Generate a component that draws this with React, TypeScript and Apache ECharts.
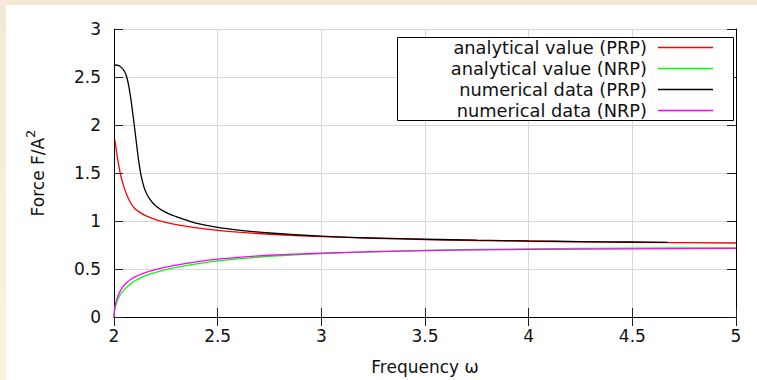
import React, { useEffect, useRef } from "react";
import * as echarts from "echarts";

// Frequency axis ticks and force axis ticks
const xTicks = [2, 2.5, 3, 3.5, 4, 4.5, 5];
const yTicks = [0, 0.5, 1, 1.5, 2, 2.5, 3];

// analytical value (PRP)
const redX = [2.005, 2.01, 2.015, 2.02, 2.03, 2.04, 2.05, 2.065, 2.08, 2.1, 2.125, 2.15, 2.2, 2.25, 2.3, 2.4, 2.5, 2.6, 2.75, 3, 3.25, 3.5, 3.75, 4, 4.5, 5];
const redY = [1.84, 1.755, 1.68, 1.615, 1.5, 1.41, 1.34, 1.255, 1.19, 1.13, 1.09, 1.058, 1.015, 0.985, 0.962, 0.928, 0.903, 0.884, 0.862, 0.838, 0.82, 0.807, 0.797, 0.789, 0.778, 0.771];

// analytical value (NRP)
const greenX = [2.0, 2.002, 2.005, 2.01, 2.015, 2.02, 2.03, 2.04, 2.05, 2.065, 2.08, 2.1, 2.125, 2.15, 2.2, 2.25, 2.3, 2.4, 2.5, 2.6, 2.75, 3, 3.25, 3.5, 3.75, 4, 4.5, 5];
const greenY = [0, 0.05, 0.09, 0.13, 0.162, 0.19, 0.23, 0.26, 0.285, 0.318, 0.345, 0.375, 0.405, 0.43, 0.466, 0.494, 0.517, 0.553, 0.584, 0.606, 0.631, 0.66, 0.679, 0.693, 0.703, 0.71, 0.717, 0.721];

// numerical data (PRP)
const blackX = [2.0, 2.01, 2.02, 2.03, 2.04, 2.05, 2.06, 2.07, 2.08, 2.09, 2.1, 2.11, 2.12, 2.13, 2.14, 2.15, 2.17, 2.2, 2.25, 2.3, 2.35, 2.4, 2.5, 2.6, 2.75, 3, 3.25, 3.5, 3.75, 4, 4.25, 4.5, 4.67];
const blackY = [2.615, 2.625, 2.62, 2.61, 2.59, 2.56, 2.51, 2.42, 2.29, 2.13, 1.96, 1.78, 1.61, 1.48, 1.39, 1.32, 1.235, 1.16, 1.09, 1.045, 1.008, 0.975, 0.933, 0.905, 0.875, 0.843, 0.823, 0.81, 0.8, 0.792, 0.786, 0.781, 0.778];

// numerical data (NRP)
const magentaX = [2.0, 2.002, 2.005, 2.01, 2.015, 2.02, 2.03, 2.04, 2.05, 2.065, 2.08, 2.1, 2.125, 2.15, 2.2, 2.25, 2.3, 2.4, 2.5, 2.6, 2.75, 3, 3.25, 3.5, 3.75, 4, 4.5, 5];
const magentaY = [0, 0.07, 0.115, 0.16, 0.195, 0.225, 0.27, 0.305, 0.333, 0.365, 0.39, 0.415, 0.44, 0.462, 0.494, 0.519, 0.541, 0.575, 0.603, 0.622, 0.643, 0.666, 0.681, 0.692, 0.699, 0.704, 0.71, 0.714];

const seriesNames = [
  "analytical value (PRP)",
  "analytical value (NRP)",
  "numerical data (PRP)",
  "numerical data (NRP)",
];
const seriesColors = ["#ff0000", "#00ff00", "#000000", "#ff00ff"];

const FONT = "DejaVu Sans";

function pairs(xs: number[], ys: number[]) {
  return xs.map((x, i) => [x, ys[i]]);
}

export default function App() {
  const ref = useRef<HTMLDivElement>(null);

  useEffect(() => {
    if (!ref.current) return;
    const chart = echarts.init(ref.current, undefined, { renderer: "svg" });

    const seriesData = [
      pairs(redX, redY),
      pairs(greenX, greenY),
      pairs(blackX, blackY),
      pairs(magentaX, magentaY),
    ];

    // legend box drawn as graphic elements
    const legendRight = 647;
    const rowY = [47, 68, 89, 110];
    const legendGraphics: any[] = [
      {
        type: "rect",
        shape: { x: 397.5, y: 37.5, width: 336, height: 83 },
        style: { fill: "#ffffff", stroke: "#000000", lineWidth: 1 },
        z: 10,
      },
    ];
    seriesNames.forEach((name, i) => {
      legendGraphics.push({
        type: "text",
        x: legendRight,
        y: rowY[i],
        style: {
          text: name,
          fill: "#111111",
          font: `17.8px "${FONT}"`,
          textAlign: "right",
          textVerticalAlign: "middle",
        },
        z: 11,
      });
      legendGraphics.push({
        type: "line",
        shape: { x1: 658, y1: rowY[i] + 0.5, x2: 713, y2: rowY[i] + 0.5 },
        style: { stroke: seriesColors[i], lineWidth: 1.3 },
        z: 11,
      });
    });

    const axisCommon = {
      type: "value" as const,
      axisLine: { show: true, lineStyle: { color: "#000000", width: 1 } },
      axisTick: { show: true, inside: true, length: 9, lineStyle: { color: "#222222", width: 1 } },
    };

    chart.setOption({
      animation: false,
      backgroundColor: "#ffffff",
      textStyle: { fontFamily: FONT },
      grid: { left: 114, top: 29, right: 21, bottom: 62.5, containLabel: false },
      xAxis: [
        {
          ...axisCommon,
          position: "bottom",
          min: xTicks[0],
          max: xTicks[xTicks.length - 1],
          interval: 0.5,
          name: "Frequency ω",
          nameLocation: "middle",
          nameGap: 41,
          nameTextStyle: { fontFamily: FONT, fontSize: 17, color: "#111111" },
          axisLabel: { fontFamily: FONT, fontSize: 17, color: "#111111", margin: 10 },
          splitLine: { show: true, lineStyle: { color: "#d8d8d8", width: 1 } },
        },
        {
          ...axisCommon,
          position: "top",
          min: xTicks[0],
          max: xTicks[xTicks.length - 1],
          interval: 0.5,
          axisLabel: { show: false },
          splitLine: { show: false },
        },
      ],
      yAxis: [
        {
          ...axisCommon,
          position: "left",
          min: yTicks[0],
          max: yTicks[yTicks.length - 1],
          interval: 0.5,
          name: "{a|Force F/A}{s|2}",
          nameLocation: "middle",
          nameGap: 68,
          nameRotate: 90,
          nameTextStyle: {
            fontFamily: FONT,
            fontSize: 17,
            color: "#111111",
            rich: {
              a: { fontFamily: FONT, fontSize: 17, color: "#111111", lineHeight: 22, verticalAlign: "bottom" },
              s: { fontFamily: FONT, fontSize: 13, color: "#111111", lineHeight: 22, verticalAlign: "top" },
            },
          },
          axisLabel: { fontFamily: FONT, fontSize: 17, color: "#111111", margin: 13 },
          splitLine: { show: true, lineStyle: { color: "#d8d8d8", width: 1 } },
        },
        {
          ...axisCommon,
          position: "right",
          min: yTicks[0],
          max: yTicks[yTicks.length - 1],
          interval: 0.5,
          axisLabel: { show: false },
          splitLine: { show: false },
        },
      ],
      series: seriesNames.map((name, i) => ({
        name,
        type: "line",
        xAxisIndex: 0,
        yAxisIndex: 0,
        data: seriesData[i],
        showSymbol: false,
        symbol: "none",
        smooth: 0.3,
        lineStyle: { color: seriesColors[i], width: 1.3 },
        z: 3,
      })),
      graphic: [
        {
          type: "rect",
          shape: { x: 0, y: 0, width: 757, height: 5 },
          style: { fill: "#f3e9d6" },
          z: 0,
        },
        {
          type: "rect",
          shape: { x: 0, y: 0, width: 6, height: 380 },
          style: {
            fill: new echarts.graphic.LinearGradient(0, 0, 0, 1, [
              { offset: 0, color: "#f3e9d6" },
              { offset: 1, color: "#f8f4dc" },
            ]),
          },
          z: 0,
        },
        ...legendGraphics,
      ],
    });

    return () => chart.dispose();
  }, []);

  return (
    <div
      ref={ref}
      style={{ position: "fixed", left: 0, top: 0, width: 757, height: 380 }}
    />
  );
}
